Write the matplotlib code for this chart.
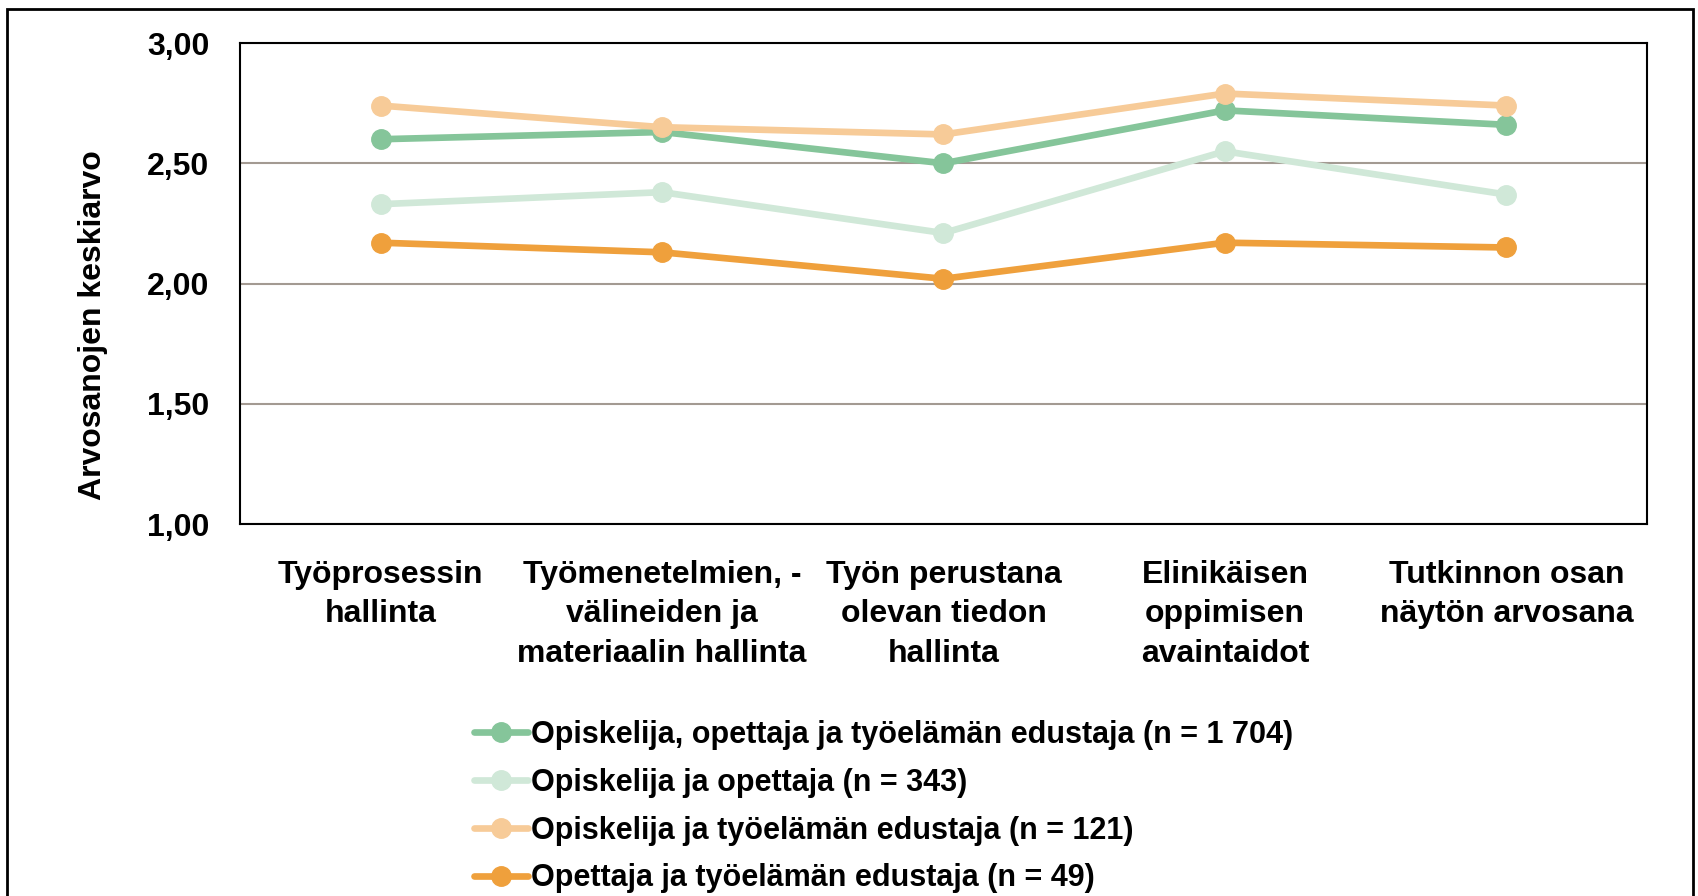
import matplotlib
matplotlib.use("Agg")
import matplotlib.pyplot as plt
from matplotlib.patches import Rectangle

plt.rcParams['font.family'] = ['Liberation Sans', 'DejaVu Sans']
plt.rcParams['font.weight'] = 'bold'
plt.rcParams['axes.labelweight'] = 'bold'

# data
categories = ["Työprosessin\nhallinta",
              "Työmenetelmien, -\nvälineiden ja\nmateriaalin hallinta",
              "Työn perustana\nolevan tiedon\nhallinta",
              "Elinikäisen\noppimisen\navaintaidot",
              "Tutkinnon osan\nnäytön arvosana"]
series_names = ["Opiskelija, opettaja ja työelämän edustaja (n = 1 704)",
                "Opiskelija ja opettaja (n = 343)",
                "Opiskelija ja työelämän edustaja (n = 121)",
                "Opettaja ja työelämän edustaja (n = 49)"]
all_three = [2.60, 2.63, 2.50, 2.72, 2.66]
student_teacher = [2.33, 2.38, 2.21, 2.55, 2.37]
student_work = [2.74, 2.65, 2.62, 2.79, 2.74]
teacher_work = [2.17, 2.13, 2.02, 2.17, 2.15]
colors = ["#85C59A", "#D0E8D8", "#F7CB98", "#EFA03C"]

fig = plt.figure(figsize=(16.98, 8.96), dpi=100)
ax = fig.add_axes([0.1413, 0.415, 0.8287, 0.537])

x = list(range(len(categories)))
for vals, name, c in zip([all_three, student_teacher, student_work, teacher_work], series_names, colors):
    ax.plot(x, vals, color=c, lw=4.8, marker='o', ms=14, label=name, solid_capstyle='round')

ax.set_xlim(-0.5, len(categories) - 0.5)
ax.set_ylim(1.0, 3.0)
ax.set_yticks([1.0, 1.5, 2.0, 2.5, 3.0])
ax.set_yticklabels(["1,00", "1,50", "2,00", "2,50", "3,00"])
ax.set_xticks(x)
ax.set_xticklabels(categories, linespacing=1.4)
ax.tick_params(axis='both', length=0, labelsize=23)
ax.tick_params(axis='x', pad=26)
ax.tick_params(axis='y', pad=22)
ax.yaxis.grid(True, color="#A39A92", lw=1.5)
ax.set_axisbelow(True)
for s in ax.spines.values():
    s.set_linewidth(1.5)
    s.set_color("black")
ax.set_ylabel("Arvosanojen keskiarvo", fontsize=23, labelpad=28, y=0.414)

fig.legend(loc='upper left', bbox_to_anchor=(0.272, 0.21), frameon=False,
           fontsize=22, handlelength=1.75, handletextpad=0.1, labelspacing=0.58,
           borderaxespad=0)

fig.patches.append(Rectangle((0.004, -0.02), 0.993, 1.01, transform=fig.transFigure,
                             fill=False, edgecolor="black", lw=2))

fig.savefig("out.png", dpi=100)
